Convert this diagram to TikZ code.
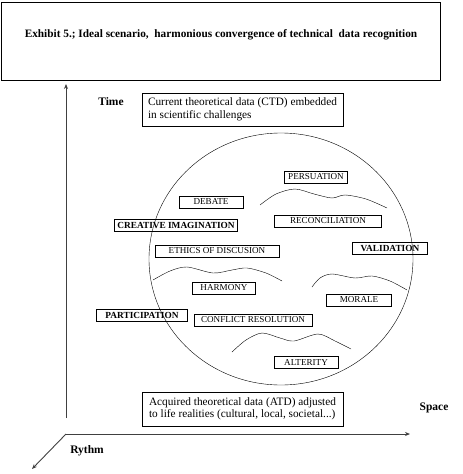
\documentclass[tikz,border=0pt]{standalone}
\usepackage{fontspec}
\setmainfont{Liberation Serif}
\usepackage{tikz}
\usetikzlibrary{arrows.meta, positioning, shapes.geometric}

\begin{document}
\begin{tikzpicture}[
        x=1pt, y=-1pt,
        concept/.style={rectangle, draw, thin, inner sep=1pt, minimum height=12pt, font=\fontsize{9.1}{10}\selectfont},
        keyconcept/.style={concept, font=\fontsize{9.3}{10}\selectfont\bfseries},
        datum/.style={rectangle, draw, thin, align=left, inner sep=3pt, font=\fontsize{11.3}{12.5}\selectfont},
        axislabel/.style={font=\fontsize{11.5}{12}\selectfont\bfseries},
        axis/.style={draw=black!75, line width=0.9pt, -{Stealth[length=5pt, width=4pt]}},
        wave/.style={thin}
    ]
    \useasboundingbox (0,0) rectangle (463,474);

    % title frame
    \node[draw, thin, minimum width=439pt, minimum height=78pt] (title) at (220.5,41) {};
    \node[font=\fontsize{11.3}{12}\selectfont\bfseries] (titletext) at (221,35)
        {Exhibit 5.; Ideal scenario,\ \ harmonious convergence of technical\ \ data recognition};

    % axes
    \coordinate (origin) at (66,434);
    \coordinate (vbottom) at (66,418);
    \coordinate (vtop) at (66,84);
    \coordinate (hend) at (410,434);
    \coordinate (dend) at (32,469);
    \draw[axis] (vbottom) -- (vtop);
    \draw[axis] (origin) -- (hend);
    \draw[axis] (origin) -- (dend);

    \node[axislabel] (time) at (111,102) {Time};
    \node[axislabel] (space) at (434,408) {Space};
    \node[axislabel] (rythm) at (87,451) {Rythm};

    % theoretical data
    \node[datum, minimum width=201pt, minimum height=33pt] (ctd) at (242.5,109.5)
        {Current theoretical data (CTD) embedded\\in scientific challenges};
    \node[datum, minimum width=201pt, minimum height=34pt] (atd) at (242.5,409)
        {Acquired theoretical data (ATD) adjusted\\to life realities (cultural, local, societal...)};

    % convergence sphere
    \node[ellipse, draw, thin, minimum width=264pt, minimum height=252pt] (sphere) at (281,259) {};

    \draw[wave] plot[smooth] coordinates {(260,205) (276,194) (295,189) (314,194) (332,198) (345,195) (366,199) (387,208)};
    \draw[wave] plot[smooth] coordinates {(153,280) (170,271) (187,267) (213,273) (232,270) (247,268) (266,273) (282,281)};
    \draw[wave] plot[smooth] coordinates {(312,287) (320,278) (332,274) (355,278) (372,276) (390,281) (407,290)};
    \draw[wave] plot[smooth] coordinates {(232,352) (246,340) (262,333) (280,338) (294,341) (318,334) (335,341) (351,349)};

    % concepts
    \node[concept, minimum width=63pt] (persuation) at (316,177) {PERSUATION};
    \node[concept, minimum width=64pt] (debate) at (211,202) {DEBATE};
    \node[keyconcept, minimum width=123pt] (imagination) at (176,225) {CREATIVE IMAGINATION};
    \node[concept, minimum width=107pt] (reconciliation) at (328,221) {RECONCILIATION};
    \node[concept, minimum width=124pt] (ethics) at (217,251) {ETHICS OF DISCUSION};
    \node[keyconcept, minimum width=75pt] (validation) at (390,248) {VALIDATION};
    \node[concept, minimum width=63pt] (harmony) at (224,288) {HARMONY};
    \node[concept, minimum width=65pt] (morale) at (359,300) {MORALE};
    \node[keyconcept, minimum width=91pt] (participation) at (142,315) {PARTICIPATION};
    \node[concept, minimum width=118pt] (conflict) at (253,320) {CONFLICT RESOLUTION};
    \node[concept, minimum width=64pt] (alterity) at (306,362) {ALTERITY};
\end{tikzpicture}
\end{document}
